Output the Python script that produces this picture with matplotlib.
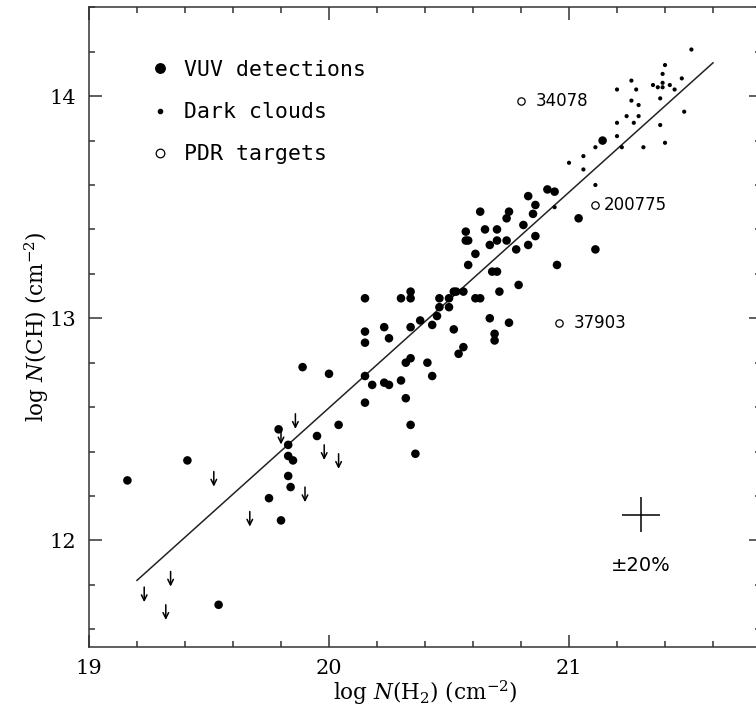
import matplotlib
matplotlib.use("Agg")
import matplotlib.pyplot as plt
from matplotlib.ticker import MultipleLocator
from matplotlib.lines import Line2D

plt.rcParams['font.family'] = ['DejaVu Serif']
plt.rcParams['mathtext.fontset'] = 'dejavuserif'

# ---- data (log N(H2), log N(CH)) ----
vuv_x = [19.16, 19.41, 19.54, 19.80, 19.75, 19.84, 19.83, 19.85, 19.83, 19.83,
         19.79, 19.95, 20.04, 19.89, 20.00, 20.15, 20.15, 20.15, 20.15, 20.18,
         20.15, 20.23, 20.25, 20.23, 20.25, 20.30, 20.30, 20.34, 20.34, 20.34,
         20.32, 20.34, 20.32, 20.34, 20.36, 20.38, 20.43, 20.45, 20.46, 20.46,
         20.50, 20.50, 20.52, 20.53, 20.56, 20.52, 20.41, 20.43, 20.56, 20.54,
         20.61, 20.63, 20.58, 20.61, 20.57, 20.57, 20.58, 20.63, 20.65, 20.67,
         20.68, 20.70, 20.71, 20.67, 20.69, 20.69, 20.70, 20.70, 20.74, 20.74,
         20.75, 20.78, 20.79, 20.75, 20.81, 20.83, 20.86, 20.85, 20.86, 20.83,
         20.91, 20.94, 21.04, 21.11, 20.95, 21.14]
vuv_y = [12.27, 12.36, 11.71, 12.09, 12.19, 12.24, 12.29, 12.36, 12.38, 12.43,
         12.50, 12.47, 12.52, 12.78, 12.75, 13.09, 12.94, 12.89, 12.74, 12.70,
         12.62, 12.96, 12.91, 12.71, 12.70, 12.72, 13.09, 13.12, 13.09, 12.96,
         12.80, 12.82, 12.64, 12.52, 12.39, 12.99, 12.97, 13.01, 13.05, 13.09,
         13.05, 13.09, 13.12, 13.12, 13.12, 12.95, 12.80, 12.74, 12.87, 12.84,
         13.09, 13.09, 13.24, 13.29, 13.39, 13.35, 13.35, 13.48, 13.40, 13.33,
         13.21, 13.21, 13.12, 13.00, 12.93, 12.90, 13.40, 13.35, 13.35, 13.45,
         13.48, 13.31, 13.15, 12.98, 13.42, 13.33, 13.51, 13.47, 13.37, 13.55,
         13.58, 13.57, 13.45, 13.31, 13.24, 13.80]

limit_x = [19.23, 19.34, 19.32, 19.52, 19.67, 19.86, 19.80, 19.90, 19.98, 20.04]
limit_y = [11.79, 11.86, 11.71, 12.31, 12.13, 12.57, 12.50, 12.24, 12.43, 12.39]

dark_x = [21.51, 21.40, 21.39, 21.47, 21.26, 21.20, 21.28, 21.35, 21.37, 21.39,
          21.39, 21.42, 21.44, 21.38, 21.26, 21.29, 21.48, 21.24, 21.29, 21.20,
          21.27, 21.38, 21.20, 21.22, 21.31, 21.40, 21.11, 21.06, 21.00, 21.06,
          21.11, 20.94]
dark_y = [14.21, 14.14, 14.10, 14.08, 14.07, 14.03, 14.03, 14.05, 14.04, 14.06,
          14.04, 14.05, 14.03, 13.99, 13.98, 13.96, 13.93, 13.91, 13.91, 13.88,
          13.88, 13.87, 13.82, 13.77, 13.77, 13.79, 13.77, 13.73, 13.70, 13.67,
          13.60, 13.50]

pdr_x = [20.80, 21.11, 20.96]
pdr_y = [13.98, 13.51, 12.98]
pdr_names = ['34078', '200775', '37903']
pdr_offsets = [(15, 0), (8, 0), (14, 0)]

fit_x = [19.20, 21.60]
fit_y = [11.82, 14.15]

err_x, err_y, err_size = 21.30, 12.115, 0.079
err_label = '±20%'

# ---- figure ----
fig = plt.figure(figsize=(7.56, 7.17), dpi=100)
ax = fig.add_axes([89/756, 70/717, 672/756, 639.7/717])
ax.set_xlim(19.0, 21.8)
ax.set_ylim(11.52, 14.40)

ax.plot(fit_x, fit_y, color='#222222', lw=1.1, zorder=2)

ax.scatter(vuv_x, vuv_y, s=38, color='black', edgecolors='none', zorder=3)
ax.scatter(dark_x, dark_y, s=9, color='black', edgecolors='none', zorder=3)
ax.scatter(pdr_x, pdr_y, s=28, facecolors='white', edgecolors='black',
           linewidths=0.9, zorder=3)

for x, y in zip(limit_x, limit_y):
    ax.annotate('', xy=(x, y - 0.068), xytext=(x, y),
                arrowprops=dict(arrowstyle='->,head_length=0.4,head_width=0.2',
                                color='black', lw=1.1, shrinkA=0, shrinkB=0))

for x, y, name, off in zip(pdr_x, pdr_y, pdr_names, pdr_offsets):
    ax.annotate(name, xy=(x, y), xytext=off, textcoords='offset pixels',
                ha='left', va='center', fontsize=12, family='DejaVu Sans')

ax.errorbar([err_x], [err_y], xerr=err_size, yerr=err_size, fmt='none',
            ecolor='black', elinewidth=1.1, capsize=0)
ax.text(err_x, err_y - 0.23, err_label, ha='center', va='center',
        fontsize=14, family='DejaVu Sans')

handles = [
    Line2D([], [], marker='o', ls='none', color='black', markersize=6.8),
    Line2D([], [], marker='o', ls='none', color='black', markersize=3.0),
    Line2D([], [], marker='o', ls='none', markerfacecolor='white',
           markeredgecolor='black', markersize=6.2, markeredgewidth=0.9),
]
leg = ax.legend(handles, ['VUV detections', 'Dark clouds', 'PDR targets'],
                loc='upper left', bbox_to_anchor=(0.0897, 0.9176), frameon=False,
                prop={'family': 'DejaVu Sans Mono', 'size': 15.5},
                handletextpad=0.6, labelspacing=1.03, handlelength=1.0,
                borderpad=0, borderaxespad=0)

ax.xaxis.set_major_locator(MultipleLocator(1))
ax.xaxis.set_minor_locator(MultipleLocator(0.2))
ax.yaxis.set_major_locator(MultipleLocator(1))
ax.yaxis.set_minor_locator(MultipleLocator(0.2))
ax.tick_params(which='both', direction='in', top=True, right=True,
               labelsize=15, pad=9, width=1.1, color='#333333')
ax.tick_params(which='major', length=9)
ax.tick_params(which='minor', length=4.5)
for sp in ax.spines.values():
    sp.set_linewidth(1.1)
    sp.set_color('#333333')
ax.spines['right'].set_visible(False)

ax.set_xlabel(r'log $N$(H$_2$) (cm$^{-2}$)', fontsize=15.5, labelpad=0)
ax.set_ylabel(r'log $N$(CH) (cm$^{-2}$)', fontsize=15.5, labelpad=-1)

fig.savefig('out.png', dpi=100)
